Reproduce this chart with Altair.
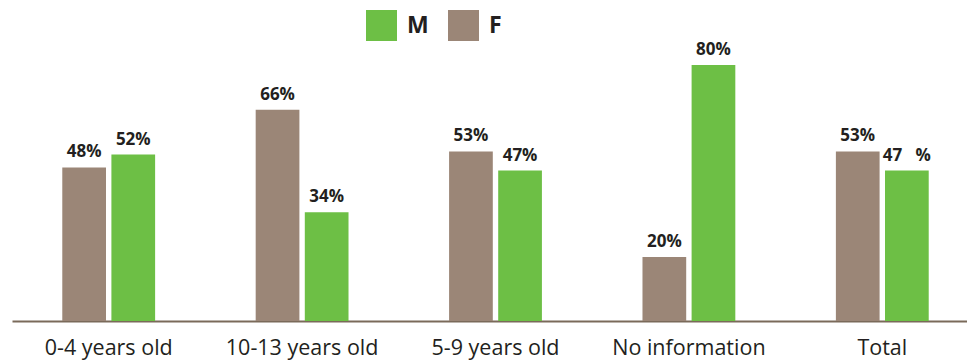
import altair as alt
import pandas as pd

categories = ["0-4 years old", "10-13 years old", "5-9 years old", "No information", "Total"]
f_values = [48, 66, 53, 20, 53]
m_values = [52, 34, 47, 80, 47]
f_labels = ["48%", "66%", "53%", "20%", "53%"]
m_labels = ["52%", "34%", "47%", "80%", "47\u00a0\u00a0\u00a0%"]

rows = []
for c, fv, mv, fl, ml in zip(categories, f_values, m_values, f_labels, m_labels):
    rows.append({"cat": c, "sex": "F", "value": fv, "label": fl})
    rows.append({"cat": c, "sex": "M", "value": mv, "label": ml})
df = pd.DataFrame(rows)

W, H = 957, 271

x = alt.X("cat:N", sort=categories, title=None,
          scale=alt.Scale(range=[2, 969], paddingInner=0.52, paddingOuter=0.26),
          axis=alt.Axis(labelAngle=0, labelFontSize=21.5, labelColor="#231f20",
                        labelFont="Open Sans", ticks=False, labelPadding=16,
                        domainColor="#7a6a5a", domainWidth=2))
xo = alt.XOffset("sex:N", sort=["F", "M"],
                 scale=alt.Scale(paddingInner=0.11, paddingOuter=0))
y = alt.Y("value:Q", scale=alt.Scale(domain=[0, 84.7], nice=False), axis=None)

color = alt.Color("sex:N", title=None,
                  scale=alt.Scale(domain=["M", "F"], range=["#6dbf45", "#9b8677"]),
                  legend=alt.Legend(orient="none", legendX=356, legendY=-40,
                                    direction="horizontal", symbolType="square",
                                    symbolSize=961, symbolStrokeWidth=0,
                                    symbolOpacity=1, labelFontSize=23,
                                    labelFontWeight="bold", labelColor="#231f20",
                                    labelFont="Open Sans", columnPadding=19,
                                    labelOffset=10))

bars = alt.Chart(df).mark_bar(opacity=1).encode(x=x, xOffset=xo, y=y, color=color)
text = alt.Chart(df).mark_text(baseline="bottom", dy=-6, fontSize=17,
                               fontWeight="bold", color="#231f20",
                               font="Open Sans").encode(
    x=x, xOffset=xo, y=y, text="label:N")

chart = alt.layer(bars, text).properties(
    width=W, height=H,
    autosize=alt.AutoSizeParams(type="none"),
    padding={"left": 10, "top": 50, "right": 0, "bottom": 41},
).configure_view(stroke=None)

chart.save("out.html", embed_options={"renderer": "svg", "actions": False})
